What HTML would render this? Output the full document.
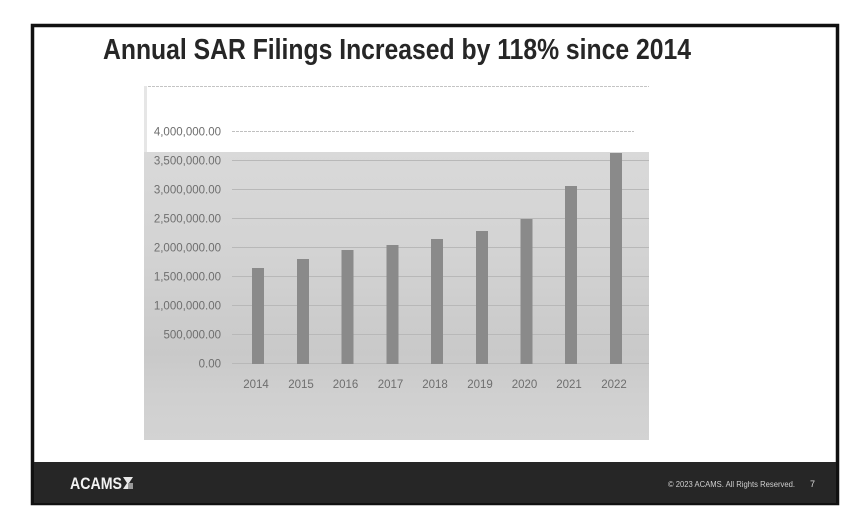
<!DOCTYPE html>
<html>
<head>
<meta charset="utf-8">
<style>
html,body{margin:0;padding:0;background:#fff;}
svg{display:block;}
</style>
</head>
<body>
<svg width="856" height="520" viewBox="0 0 856 520" xmlns="http://www.w3.org/2000/svg">
  <defs>
    <linearGradient id="bg" x1="0" y1="0" x2="0" y2="1">
      <stop offset="0" stop-color="#d9d9d9"/>
      <stop offset="0.35" stop-color="#d3d3d3"/>
      <stop offset="0.7" stop-color="#c9c9c9"/>
      <stop offset="0.85" stop-color="#d0d0d0"/>
      <stop offset="1" stop-color="#d3d3d3"/>
    </linearGradient>
  </defs>
  <rect x="0" y="0" width="856" height="520" fill="#fff"/>
  <!-- frame -->
  <rect x="32.5" y="25.5" width="805" height="478" fill="#fff" stroke="#111" stroke-width="3.5"/>
  <!-- footer -->
  <rect x="34" y="462" width="802" height="41" fill="#262626"/>
  <text x="70" y="489" font-family="Liberation Sans, sans-serif" font-weight="bold" font-size="17" fill="#f2f2f2" textLength="52" lengthAdjust="spacingAndGlyphs">ACAMS</text>
  <polygon points="123,477 133,477 129,483 133,489 123,489 127,483" fill="#e8e8e8"/>
  <rect x="128" y="483" width="5" height="6" fill="#999"/>
  <text x="668" y="487" font-family="Liberation Sans, sans-serif" font-size="8.5" fill="#cfcfcf" textLength="127" lengthAdjust="spacingAndGlyphs">© 2023 ACAMS. All Rights Reserved.</text>
  <text x="810" y="487" font-family="Liberation Sans, sans-serif" font-size="9" fill="#dcdcdc">7</text>

  <!-- title -->
  <text x="103" y="59" font-family="Liberation Sans, sans-serif" font-weight="bold" font-size="29" fill="#262626" textLength="588" lengthAdjust="spacingAndGlyphs">Annual SAR Filings Increased by 118% since 2014</text>

  <!-- chart area -->
  <line x1="144" y1="86.5" x2="649" y2="86.5" stroke="#c4c4c4" stroke-width="1" stroke-dasharray="3,1"/>
  <rect x="144" y="152" width="505" height="288" fill="url(#bg)"/>
  <rect x="144" y="86" width="3" height="66" fill="#e6e6e6"/>

  <!-- gridlines -->
  <g stroke="#b8b8b8" stroke-width="1">
    <line x1="232" y1="131.5" x2="634" y2="131.5" stroke="#c0c0c0" stroke-dasharray="3,1"/>
    <line x1="232" y1="160.5" x2="649" y2="160.5"/>
    <line x1="232" y1="189.5" x2="649" y2="189.5"/>
    <line x1="232" y1="218.5" x2="649" y2="218.5"/>
    <line x1="232" y1="247.5" x2="649" y2="247.5"/>
    <line x1="232" y1="276.5" x2="649" y2="276.5"/>
    <line x1="232" y1="305.5" x2="649" y2="305.5"/>
    <line x1="232" y1="334.5" x2="649" y2="334.5"/>
    <line x1="232" y1="363.5" x2="649" y2="363.5"/>
  </g>

  <!-- bars -->
  <g fill="#8a8a8a">
    <rect x="252" y="268" width="12" height="96"/>
    <rect x="297" y="259" width="12" height="105"/>
    <rect x="341.5" y="250" width="12" height="114"/>
    <rect x="386.5" y="245" width="12" height="119"/>
    <rect x="431" y="239" width="12" height="125"/>
    <rect x="476" y="231" width="12" height="133"/>
    <rect x="520.5" y="219" width="12" height="145"/>
    <rect x="565" y="186" width="12" height="178"/>
    <rect x="610" y="153" width="12" height="211"/>
  </g>

  <!-- y labels -->
  <g font-family="Liberation Sans, sans-serif" font-size="11.5" fill="#6e6e6e" text-anchor="end">
    <text x="221" y="135.5">4,000,000.00</text>
    <text x="221" y="164.5">3,500,000.00</text>
    <text x="221" y="193.5">3,000,000.00</text>
    <text x="221" y="222.5">2,500,000.00</text>
    <text x="221" y="251.5">2,000,000.00</text>
    <text x="221" y="280.5">1,500,000.00</text>
    <text x="221" y="309.5">1,000,000.00</text>
    <text x="221" y="338.5">500,000.00</text>
    <text x="221" y="367.5">0.00</text>
  </g>
  <!-- x labels -->
  <g font-family="Liberation Sans, sans-serif" font-size="11.5" fill="#6e6e6e" text-anchor="middle">
    <text x="256" y="388">2014</text>
    <text x="301" y="388">2015</text>
    <text x="345.5" y="388">2016</text>
    <text x="390.5" y="388">2017</text>
    <text x="435" y="388">2018</text>
    <text x="480" y="388">2019</text>
    <text x="524.5" y="388">2020</text>
    <text x="569" y="388">2021</text>
    <text x="614" y="388">2022</text>
  </g>
</svg>
</body>
</html>
